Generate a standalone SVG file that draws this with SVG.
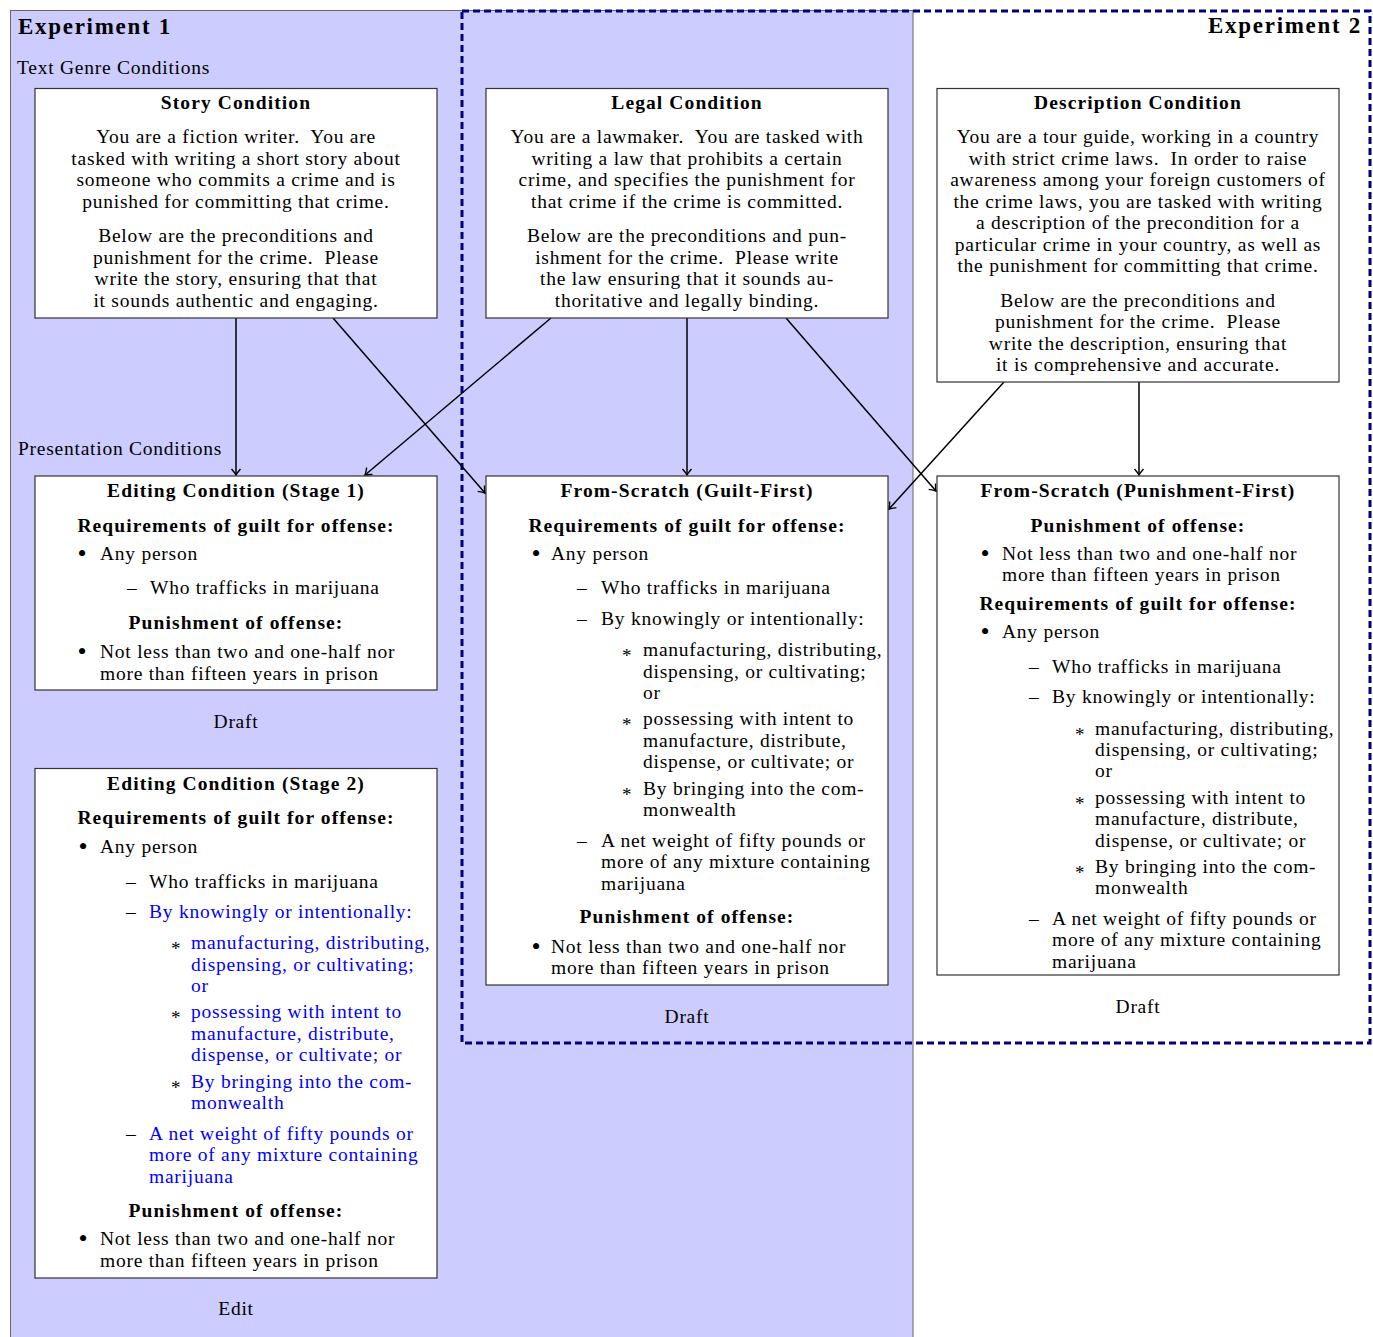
<svg xmlns="http://www.w3.org/2000/svg" width="1373" height="1337" viewBox="0 0 1373 1337">
<style>
text{font-family:"Liberation Serif","Times New Roman",serif;font-size:19.5px;letter-spacing:0.75px;fill:#000;white-space:pre}
.b{font-weight:bold;letter-spacing:1.1px}
.c{text-anchor:middle}
.h{font-size:23px;font-weight:bold;letter-spacing:1.7px}
.blue{fill:#0000ff}
.bul{font-size:26px;text-anchor:middle;letter-spacing:0}
.ast{font-size:19px;letter-spacing:0}
.box{fill:#fff;stroke:#333;stroke-width:1.2}
.conn{stroke:#000;stroke-width:1.5;fill:none;marker-end:url(#arr)}
</style>
<defs>
<marker id="arr" viewBox="-8 -6 10 12" markerWidth="10" markerHeight="12" refX="0" refY="0" orient="auto" markerUnits="userSpaceOnUse">
<path d="M-6,-4.5 Q-2,-1 0,0 Q-2,1 -6,4.5" fill="none" stroke="#000" stroke-width="1.4"/>
</marker>
</defs>
<rect width="1373" height="1337" fill="#fff"/>
<g id="experiment1">
<rect x="10.5" y="10.5" width="902.5" height="1340" fill="#ccccff" stroke="#666" stroke-width="1"/>
<text x="18" y="34" class="h">Experiment 1</text>
<text x="17" y="74">Text Genre Conditions</text>
<text x="18" y="455">Presentation Conditions</text>
</g>
<g id="experiment2">
<rect x="462" y="11" width="908" height="1032" fill="none" stroke="#00007f" stroke-width="3" stroke-dasharray="7,4"/>
<text x="1362" y="33" class="h" text-anchor="end">Experiment 2</text>
</g>
<g id="connectors">
<line class="conn" x1="236" y1="318" x2="236" y2="475"/>
<line class="conn" x1="333" y1="318" x2="485" y2="493"/>
<line class="conn" x1="551" y1="318" x2="365" y2="475"/>
<line class="conn" x1="687" y1="318" x2="687" y2="475"/>
<line class="conn" x1="786" y1="318" x2="936" y2="491"/>
<line class="conn" x1="1004" y1="382" x2="889" y2="509"/>
<line class="conn" x1="1139" y1="382" x2="1139" y2="475"/>
</g>
<g id="story">
<rect class="box" x="35" y="88.5" width="402" height="229.5"/>
<text x="236" y="109" class="b c">Story Condition</text>
<text x="236" y="143" class="c">You are a fiction writer.  You are</text>
<text x="236" y="165" class="c">tasked with writing a short story about</text>
<text x="236" y="186" class="c">someone who commits a crime and is</text>
<text x="236" y="208" class="c">punished for committing that crime.</text>
<text x="236" y="242" class="c">Below are the preconditions and</text>
<text x="236" y="264" class="c">punishment for the crime.  Please</text>
<text x="236" y="285" class="c">write the story, ensuring that that</text>
<text x="236" y="307" class="c">it sounds authentic and engaging.</text>
</g>
<g id="legal">
<rect class="box" x="486" y="88.5" width="402" height="229.5"/>
<text x="687" y="109" class="b c">Legal Condition</text>
<text x="687" y="143" class="c">You are a lawmaker.  You are tasked with</text>
<text x="687" y="165" class="c">writing a law that prohibits a certain</text>
<text x="687" y="186" class="c">crime, and specifies the punishment for</text>
<text x="687" y="208" class="c">that crime if the crime is committed.</text>
<text x="687" y="242" class="c">Below are the preconditions and pun-</text>
<text x="687" y="264" class="c">ishment for the crime.  Please write</text>
<text x="687" y="285" class="c">the law ensuring that it sounds au-</text>
<text x="687" y="307" class="c">thoritative and legally binding.</text>
</g>
<g id="description">
<rect class="box" x="937" y="88.5" width="402" height="293.5"/>
<text x="1138" y="109" class="b c">Description Condition</text>
<text x="1138" y="143" class="c">You are a tour guide, working in a country</text>
<text x="1138" y="165" class="c">with strict crime laws.  In order to raise</text>
<text x="1138" y="186" class="c">awareness among your foreign customers of</text>
<text x="1138" y="208" class="c">the crime laws, you are tasked with writing</text>
<text x="1138" y="229" class="c">a description of the precondition for a</text>
<text x="1138" y="251" class="c">particular crime in your country, as well as</text>
<text x="1138" y="272" class="c">the punishment for committing that crime.</text>
<text x="1138" y="307" class="c">Below are the preconditions and</text>
<text x="1138" y="328" class="c">punishment for the crime.  Please</text>
<text x="1138" y="350" class="c">write the description, ensuring that</text>
<text x="1138" y="371" class="c">it is comprehensive and accurate.</text>
</g>
<g id="editing-stage1">
<rect class="box" x="35" y="476" width="402" height="214"/>
<text x="236" y="497" class="b c">Editing Condition (Stage 1)</text>
<text x="236" y="532" class="b c">Requirements of guilt for offense:</text>
<text x="82" y="562" class="bul">•</text><text x="100" y="560">Any person</text>
<text x="127" y="594">–</text><text x="150" y="594">Who trafficks in marijuana</text>
<text x="236" y="629" class="b c">Punishment of offense:</text>
<text x="82" y="660" class="bul">•</text><text x="100" y="658">Not less than two and one-half nor</text>
<text x="100" y="680">more than fifteen years in prison</text>
<text x="236" y="728" class="c">Draft</text>
</g>
<g id="editing-stage2">
<rect class="box" x="35" y="768.5" width="402" height="509.5"/>
<text x="236" y="790" class="b c">Editing Condition (Stage 2)</text>
<text x="236" y="824" class="b c">Requirements of guilt for offense:</text>
<text x="83" y="855" class="bul">•</text><text x="100" y="853">Any person</text>
<text x="126" y="888">–</text><text x="149" y="888">Who trafficks in marijuana</text>
<text x="126" y="918">–</text><text x="149" y="918" class="blue">By knowingly or intentionally:</text>
<text x="171" y="955" class="ast">*</text><text x="191" y="949" class="blue">manufacturing, distributing,</text>
<text x="191" y="971" class="blue">dispensing, or cultivating;</text>
<text x="191" y="992" class="blue">or</text>
<text x="171" y="1024" class="ast">*</text><text x="191" y="1018" class="blue">possessing with intent to</text>
<text x="191" y="1040" class="blue">manufacture, distribute,</text>
<text x="191" y="1061" class="blue">dispense, or cultivate; or</text>
<text x="171" y="1094" class="ast">*</text><text x="191" y="1088" class="blue">By bringing into the com-</text>
<text x="191" y="1109" class="blue">monwealth</text>
<text x="126" y="1140">–</text><text x="149" y="1140" class="blue">A net weight of fifty pounds or</text>
<text x="149" y="1161" class="blue">more of any mixture containing</text>
<text x="149" y="1183" class="blue">marijuana</text>
<text x="236" y="1217" class="b c">Punishment of offense:</text>
<text x="83" y="1247" class="bul">•</text><text x="100" y="1245">Not less than two and one-half nor</text>
<text x="100" y="1267">more than fifteen years in prison</text>
<text x="236" y="1315" class="c">Edit</text>
</g>
<g id="guilt-first">
<rect class="box" x="486" y="476" width="402" height="509"/>
<text x="687" y="497" class="b c">From-Scratch (Guilt-First)</text>
<text x="687" y="532" class="b c">Requirements of guilt for offense:</text>
<text x="536" y="562" class="bul">•</text><text x="551" y="560">Any person</text>
<text x="577" y="594">–</text><text x="601" y="594">Who trafficks in marijuana</text>
<text x="577" y="625">–</text><text x="601" y="625">By knowingly or intentionally:</text>
<text x="622" y="662" class="ast">*</text><text x="643" y="656">manufacturing, distributing,</text>
<text x="643" y="678">dispensing, or cultivating;</text>
<text x="643" y="699">or</text>
<text x="622" y="731" class="ast">*</text><text x="643" y="725">possessing with intent to</text>
<text x="643" y="747">manufacture, distribute,</text>
<text x="643" y="768">dispense, or cultivate; or</text>
<text x="622" y="801" class="ast">*</text><text x="643" y="795">By bringing into the com-</text>
<text x="643" y="816">monwealth</text>
<text x="577" y="847">–</text><text x="601" y="847">A net weight of fifty pounds or</text>
<text x="601" y="868">more of any mixture containing</text>
<text x="601" y="890">marijuana</text>
<text x="687" y="923" class="b c">Punishment of offense:</text>
<text x="536" y="955" class="bul">•</text><text x="551" y="953">Not less than two and one-half nor</text>
<text x="551" y="974">more than fifteen years in prison</text>
<text x="687" y="1023" class="c">Draft</text>
</g>
<g id="punishment-first">
<rect class="box" x="937" y="476" width="402" height="499"/>
<text x="1138" y="497" class="b c">From-Scratch (Punishment-First)</text>
<text x="1138" y="532" class="b c">Punishment of offense:</text>
<text x="985" y="562" class="bul">•</text><text x="1002" y="560">Not less than two and one-half nor</text>
<text x="1002" y="581">more than fifteen years in prison</text>
<text x="1138" y="610" class="b c">Requirements of guilt for offense:</text>
<text x="985" y="640" class="bul">•</text><text x="1002" y="638">Any person</text>
<text x="1029" y="673">–</text><text x="1052" y="673">Who trafficks in marijuana</text>
<text x="1029" y="703">–</text><text x="1052" y="703">By knowingly or intentionally:</text>
<text x="1075" y="741" class="ast">*</text><text x="1095" y="735">manufacturing, distributing,</text>
<text x="1095" y="756">dispensing, or cultivating;</text>
<text x="1095" y="777">or</text>
<text x="1075" y="810" class="ast">*</text><text x="1095" y="804">possessing with intent to</text>
<text x="1095" y="825">manufacture, distribute,</text>
<text x="1095" y="847">dispense, or cultivate; or</text>
<text x="1075" y="879" class="ast">*</text><text x="1095" y="873">By bringing into the com-</text>
<text x="1095" y="894">monwealth</text>
<text x="1029" y="925">–</text><text x="1052" y="925">A net weight of fifty pounds or</text>
<text x="1052" y="946">more of any mixture containing</text>
<text x="1052" y="968">marijuana</text>
<text x="1138" y="1013" class="c">Draft</text>
</g>
</svg>
